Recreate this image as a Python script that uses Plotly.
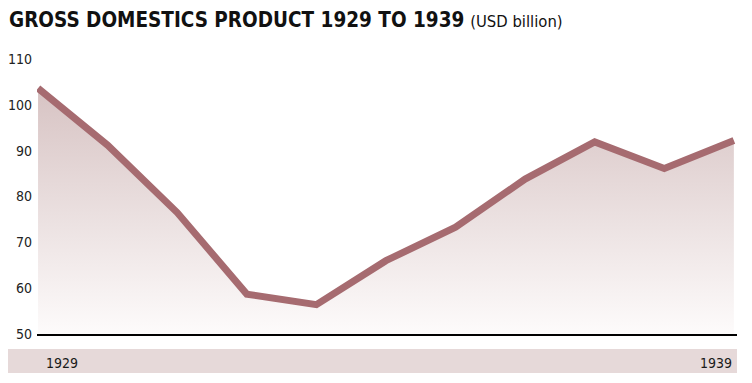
import plotly.graph_objects as go

years = [1929, 1930, 1931, 1932, 1933, 1934, 1935, 1936, 1937, 1938, 1939]
gdp = [103.6, 91.2, 76.5, 58.7, 56.4, 66.0, 73.3, 83.8, 91.9, 86.1, 92.2]
y_ticks = [50, 60, 70, 80, 90, 100, 110]
x_labels = ["1929", "1939"]
title_main = "GROSS DOMESTICS PRODUCT 1929 TO 1939"
title_unit = "(USD billion)"

FONT_NARROW = "DejaVu Sans Condensed, sans-serif"
LINE = "#a66b70"

OFF = 8  # page body margin
W, H = 752 - OFF, 383 - OFF
L, R, T, B = 37 - OFF, 15, 59 - OFF, 49
pw, ph = W - L - R, H - T - B

def px_x(p):
    return (p - OFF - L) / pw

def px_y(p):
    return (H - B - (p - OFF)) / ph

fig = go.Figure()
fig.add_trace(go.Scatter(x=years, y=[y_ticks[0]] * len(years), mode="lines",
                         line=dict(width=0), hoverinfo="skip", showlegend=False))
fig.add_trace(go.Scatter(
    x=years, y=gdp, mode="lines", fill="tonexty",
    line=dict(color=LINE, width=7),
    fillgradient=dict(type="vertical",
                      colorscale=[[0, "#fdfbfb"], [1, "#d7c3c3"]],
                      start=y_ticks[0], stop=max(gdp)),
    showlegend=False,
))

fig.add_shape(type="rect", xref="paper", yref="paper",
              x0=px_x(8), x1=px_x(737), y0=px_y(373), y1=px_y(349),
              fillcolor="#e6d9d9", line=dict(width=0), layer="below")

lab_font = dict(family=FONT_NARROW, size=14, color="#1a1a1a")
fig.add_annotation(x=years[0], y=px_y(363), xref="x", yref="paper",
                   text=x_labels[0], showarrow=False, xanchor="left", yanchor="middle",
                   xshift=6, font=lab_font)
fig.add_annotation(x=years[-1], y=px_y(363), xref="x", yref="paper",
                   text=x_labels[1], showarrow=False, xanchor="right", yanchor="middle",
                   xshift=0, font=lab_font)

fig.add_annotation(x=px_x(7), y=px_y(20), xref="paper", yref="paper",
                   text=f"<b>{title_main}</b> <span style='font-size:16.5px'>{title_unit}</span>",
                   showarrow=False, xanchor="left", yanchor="middle",
                   font=dict(family=FONT_NARROW, size=20.5, color="#111"))

fig.update_layout(
    width=W, height=H,
    margin=dict(l=L, r=R, t=T, b=B, autoexpand=False),
    paper_bgcolor="white", plot_bgcolor="white",
    xaxis=dict(range=[1928.985, 1939.045], showgrid=False, zeroline=False,
               showticklabels=False, showline=True, linecolor="black", linewidth=1.5,
               ticks="", automargin=False),
    yaxis=dict(range=[50, 110], tickvals=y_ticks, showgrid=False, zeroline=False,
               showline=False, ticks="", ticklabelstandoff=4, automargin=False,
               tickfont=dict(family=FONT_NARROW, size=14, color="#222")),
)

fig.write_html("out.html")
